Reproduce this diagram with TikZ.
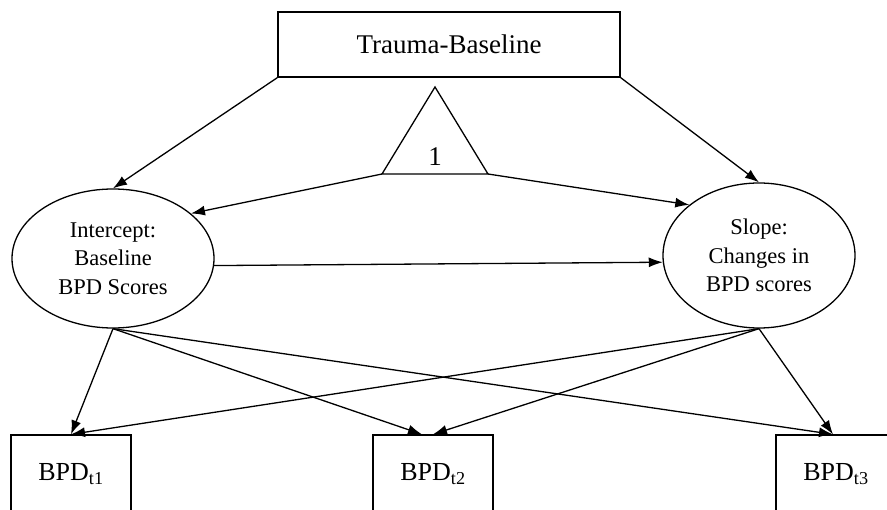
\documentclass[tikz,border=0pt]{standalone}
\usepackage{fontspec}
\setmainfont{Liberation Serif}
\usetikzlibrary{shapes.geometric,arrows.meta}

\begin{document}
\begin{tikzpicture}[x=1pt,y=-1pt, line width=1.3pt,
  topbox/.style={draw, rectangle, inner sep=0pt, minimum width=342pt, minimum height=65pt,
    font=\fontsize{27}{30}\selectfont},
  latent/.style={draw, ellipse, inner sep=0pt, align=center,
    font=\fontsize{22.5}{28.5}\selectfont},
  obs/.style={draw, rectangle, minimum width=120pt, minimum height=78pt, inner sep=0pt,
    font=\fontsize{26}{30}\selectfont},
  arr/.style={-{Latex[length=14pt,width=10pt]}}
]
\useasboundingbox (0,0) rectangle (887,510);
\clip (0,0) rectangle (887,510);

% predictor
\node[topbox] (trauma) at (449,44.5) {Trauma-Baseline};

% constant (triangle)
\coordinate (tapex) at (435,87);
\coordinate (tleft) at (382,174);
\coordinate (tright) at (488,174);
\draw (tapex) -- (tright) -- (tleft) -- cycle;
\node[font=\fontsize{27}{30}\selectfont] (one) at (435,157) {1};

% growth factors
\node[latent, minimum width=202pt, minimum height=139pt] (icpt) at (113,258.5)
  {Intercept:\\Baseline\\BPD Scores};
\node[latent, minimum width=192pt, minimum height=145pt] (slope) at (759,255.5)
  {Slope:\\Changes in\\BPD scores};

% repeated measures
\node[obs] (t1) at (71,474) {BPD\textsubscript{t1}};
\node[obs] (t2) at (433,474) {BPD\textsubscript{t2}};
\node[obs] (t3) at (836,474) {BPD\textsubscript{t3}};

% paths
\draw[arr] (trauma.south west) -- (icpt.north);
\draw[arr] (trauma.south east) -- (slope.north);
\draw[arr] (tleft) -- (icpt.30);
\draw[arr] (tright) -- (slope.144);
\draw[arr] (icpt.-4) -- (slope.184);

\draw[arr] (icpt.south) -- (t1.north);
\draw[arr] (icpt.south) -- ([xshift=-11pt]t2.north);
\draw[arr] (icpt.south) -- ([xshift=-3pt]t3.north);
\draw[arr] (slope.south) -- (t1.north);
\draw[arr] (slope.south) -- (t2.north);
\draw[arr] (slope.south) -- ([xshift=-3pt]t3.north);
\end{tikzpicture}
\end{document}
